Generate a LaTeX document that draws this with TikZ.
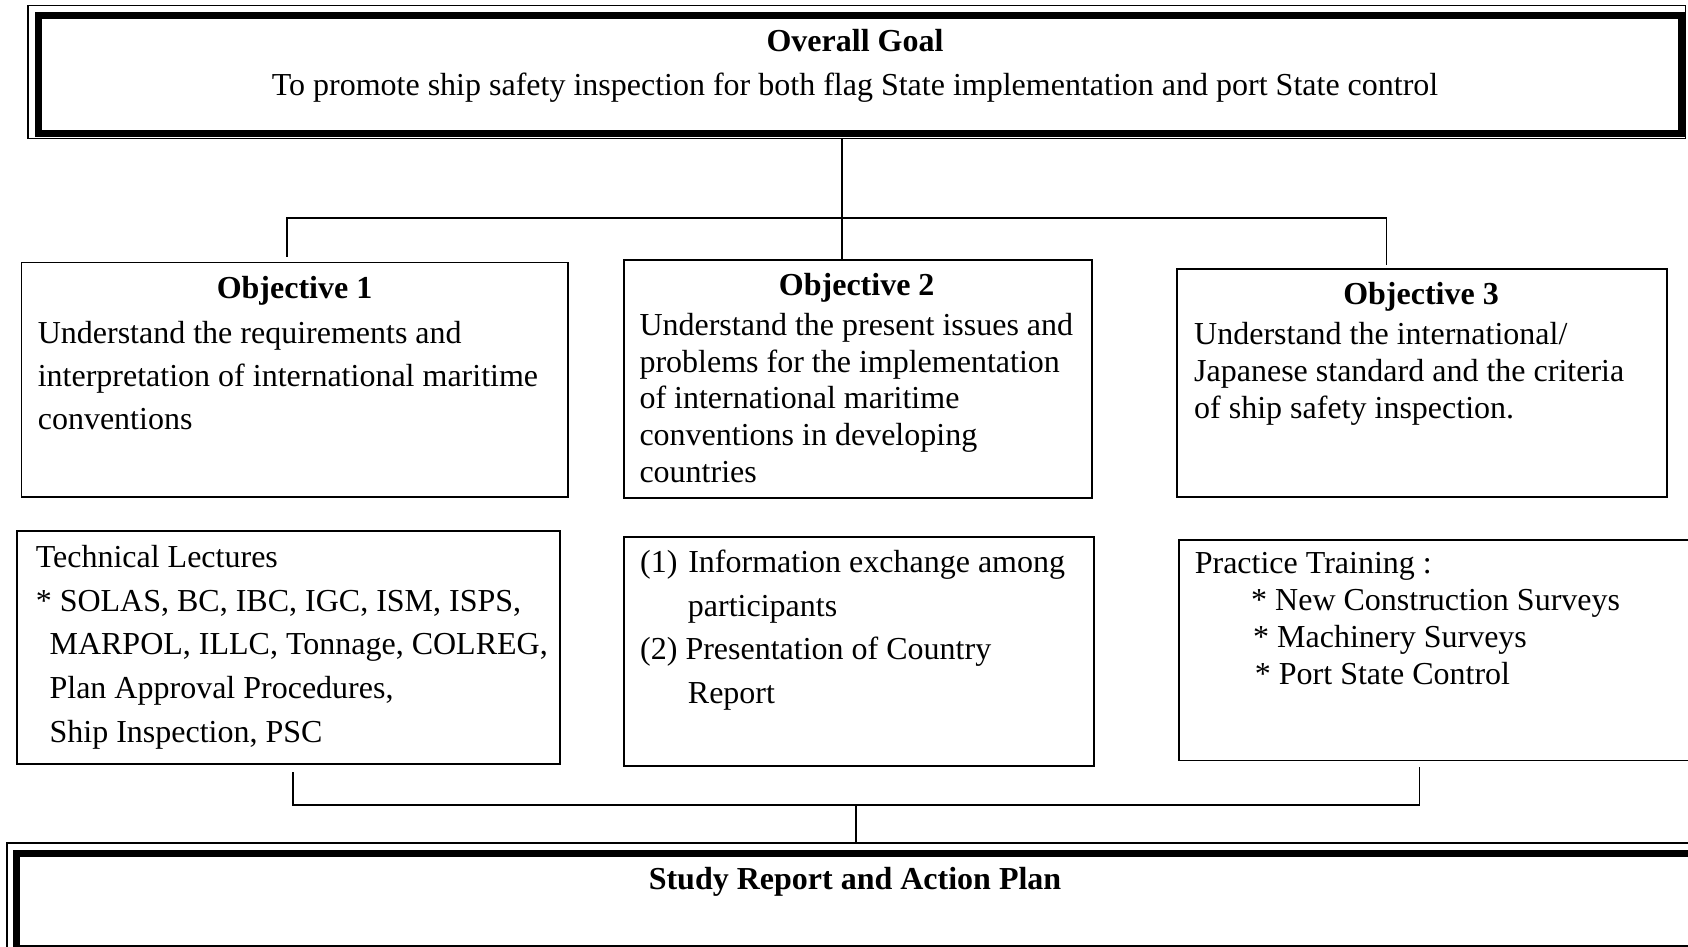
\documentclass[tikz,border=0pt]{standalone}
\usepackage{fontspec}
\setmainfont{Liberation Serif}
\newcommand\bodysize{\fontsize{32}{38}\selectfont}
\tikzset{
  box/.style={draw, line width=1.8pt, inner sep=0pt, anchor=north west},
  thinframe/.style={draw, line width=1.5pt, inner sep=0pt, anchor=north west},
  thickframe/.style={draw, line width=7pt, inner sep=0pt, anchor=north west},
  conn/.style={draw, line width=1.8pt},
  txt/.style={inner sep=0pt, anchor=base west, font=\bodysize, yshift=-2.7pt},
  ttl/.style={inner sep=0pt, anchor=base, font=\bodysize\bfseries},
  ctxt/.style={inner sep=0pt, anchor=base, font=\bodysize}
}
\begin{document}
\begin{tikzpicture}[x=1pt,y=-1pt]
\useasboundingbox (0,0) rectangle (1688,946);
\clip (0,0) rectangle (1688,946);
\fill[white] (0,0) rectangle (1688,946);

% Overall goal box (double frame)
\node[thinframe, minimum width=1657.5pt, minimum height=133pt] (goalout) at (27,4.5) {};
\node[thickframe, minimum width=1643pt, minimum height=118.6pt] (goal) at (34.5,11.7) {};
\node[ttl] (goalttl) at (855,51.7) {Overall Goal};
\node[ctxt] (goaltxt) at (855,95) {To promote ship safety inspection for both flag State implementation and port State control};

% Objective boxes
\node[box, minimum width=546.5pt, minimum height=234.4pt] (obj1) at (20.5,261.6) {};
\node[box, minimum width=468pt, minimum height=238pt] (obj2) at (622.7,259) {};
\node[box, minimum width=490.5pt, minimum height=228pt] (obj3) at (1175.7,268.3) {};

\node[ttl] (o1t) at (294.5,298.3) {Objective 1};
\node[txt] (o1a) at (37.6,340.5) {Understand the requirements and};
\node[txt] (o1b) at (37.6,383.8) {interpretation of international maritime};
\node[txt] (o1c) at (37.6,427.1) {conventions};

\node[ttl] (o2t) at (856.7,295.3) {Objective 2};
\node[txt] (o2a) at (639.3,332.5) {Understand the present issues and};
\node[txt] (o2b) at (639.3,369.3) {problems for the implementation};
\node[txt] (o2c) at (639.3,406.1) {of international maritime};
\node[txt] (o2d) at (639.3,442.9) {conventions in developing};
\node[txt] (o2e) at (639.3,479.7) {countries};

\node[ttl] (o3t) at (1421,304.5) {Objective 3};
\node[txt] (o3a) at (1194,342) {Understand the international/};
\node[txt] (o3b) at (1194,378.7) {Japanese standard and the criteria};
\node[txt] (o3c) at (1194,415.4) {of ship safety inspection.};

% Activity boxes
\node[box, minimum width=543pt, minimum height=233pt] (tech) at (15.8,530) {};
\node[box, minimum width=469.5pt, minimum height=229pt] (info) at (623.3,536) {};
\node[box, minimum width=530pt, minimum height=220.5pt] (prac) at (1178,539) {};

\node[txt] (t1) at (35.6,564.5) {Technical Lectures};
\node[txt] (t2) at (35.6,608.3) {* SOLAS, BC, IBC, IGC, ISM, ISPS,};
\node[txt] (t3) at (49.4,652) {MARPOL, ILLC, Tonnage, COLREG,};
\node[txt] (t4) at (49.4,695.8) {Plan Approval Procedures,};
\node[txt] (t5) at (49.4,739.5) {Ship Inspection, PSC};

\node[txt] (i1) at (640,570) {(1) \hspace{2.8pt}Information exchange among};
\node[txt] (i2) at (687.7,613.6) {participants};
\node[txt] (i3) at (640,657.2) {(2) Presentation of Country};
\node[txt] (i4) at (687.7,700.8) {Report};

\node[txt] (p1) at (1194.6,571) {Practice Training :};
\node[txt] (p2) at (1251,607.5) {* New Construction Surveys};
\node[txt] (p3) at (1253,644.5) {* Machinery Surveys};
\node[txt] (p4) at (1254.7,681.5) {* Port State Control};

% Study report box (double frame, running off the page)
\node[thinframe, minimum width=1720pt, minimum height=110pt] (studyout) at (6,842) {};
\node[thickframe, minimum width=1710pt, minimum height=95pt] (study) at (13,850) {};
\node[ttl] (studyttl) at (855,889.3) {Study Report and Action Plan};

% Connectors, top
\coordinate (ta) at (286.7,218.3);
\coordinate (tb) at (842,218.3);
\coordinate (tc) at (1386.5,218.3);
\coordinate (tae) at (286.7,256.7);
\coordinate (tce) at (1386.5,265);
\draw[conn] (goalout.south -| tb) -- (obj2.north -| tb);
\draw[conn] (tae) -- (ta) -- (tc) -- (tce);

% Connectors, bottom
\coordinate (ba) at (293,805);
\coordinate (bb) at (856,805);
\coordinate (bc) at (1419.5,805);
\coordinate (bas) at (293,772);
\coordinate (bcs) at (1419.5,767);
\draw[conn] (bas) -- (ba) -- (bc) -- (bcs);
\draw[conn] (bb) -- (studyout.north -| bb);
\end{tikzpicture}
\end{document}
